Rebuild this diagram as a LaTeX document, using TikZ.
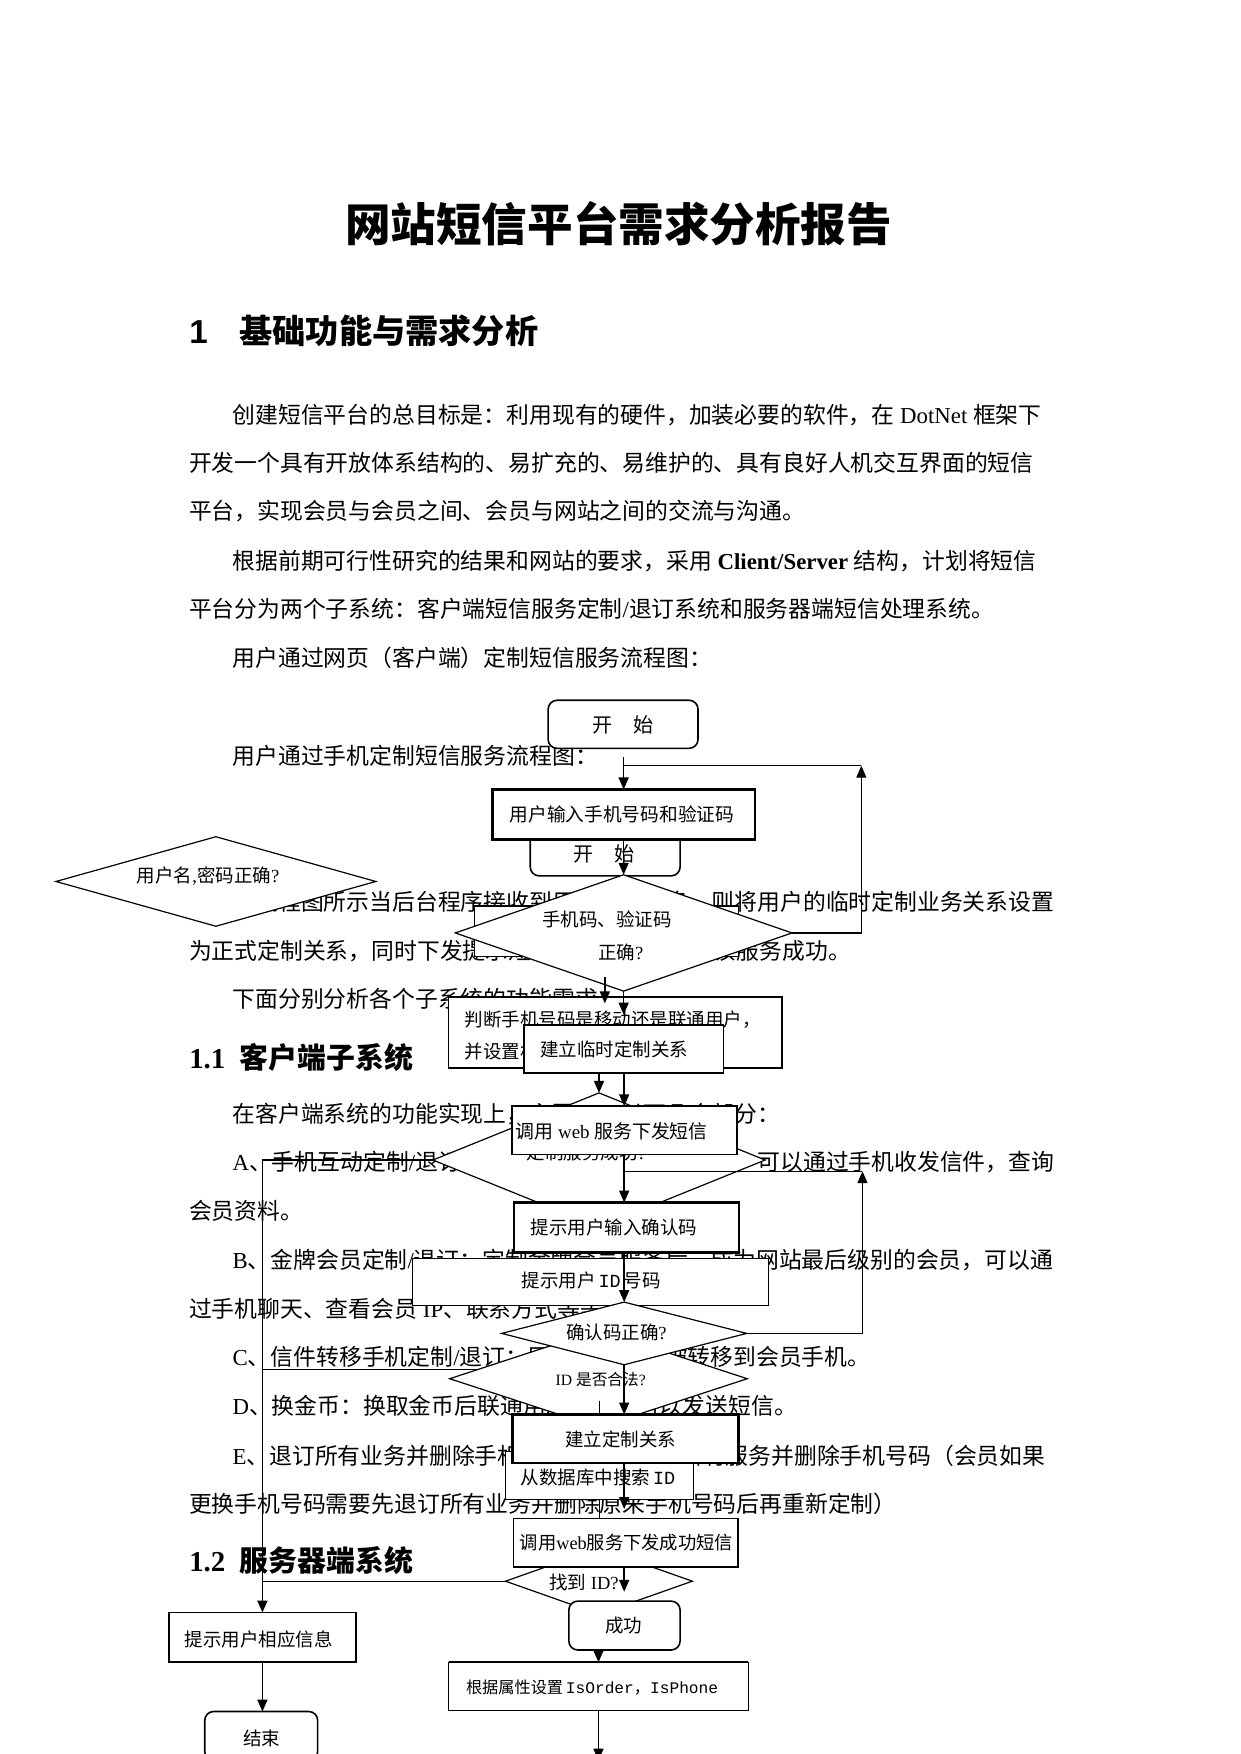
\documentclass[tikz,border=0pt]{standalone}
\usepackage{fontspec}
\setmainfont{Liberation Serif}
\newfontfamily\cjk{Noto Sans CJK SC}
\newfontfamily\monofnt{Liberation Mono}
\newfontfamily\sansfnt{Liberation Sans}
\usetikzlibrary{shapes.geometric,arrows.meta}
\newcommand\fsz[1]{\fontsize{#1pt}{#1pt}\selectfont}
\newcommand\en[1]{{\rmfamily #1}}
\begin{document}
\begin{tikzpicture}[x=1.119pt,y=-1.119pt,
  sz/.style 2 args={minimum width=#1*1.119pt,minimum height=#2*1.119pt},
  body/.style={anchor=base west,inner sep=0pt,outer sep=0pt,font=\cjk\fsz{22.83}},
  lbl/.style={inner sep=0pt,outer sep=0pt,font=\cjk\fsz{18.5}},
  lbll/.style={anchor=west,inner sep=0pt,outer sep=0pt,font=\cjk\fsz{18.5}},
  bx/.style={draw,fill=white,line width=1.2pt,inner sep=0pt,outer sep=0pt},
  bxm/.style={bx,line width=1.8pt},
  bxk/.style={bx,line width=2.6pt},
  rbx/.style={bx,line width=1.6pt,rounded corners=9pt},
  dia/.style={draw,fill=white,shape=diamond,line width=1.2pt,inner sep=0pt,outer sep=0pt},
  ar/.style={-{Triangle[width=10pt,length=12pt]},line width=1.6pt},
  ln/.style={line width=1.2pt}]
\fill[white] (0,0) rectangle (1109,1568);
\useasboundingbox (0,0) rectangle (1109,1568);

% ---------- headings ----------
\node[inner sep=0pt,font=\cjk\bfseries\fsz{45.6}] (title) at (553,200) {网站短信平台需求分析报告};
\node[anchor=base west,inner sep=0pt,font=\sansfnt\bfseries\fsz{33.2}] (h1n) at (169,307.3) {1};
\node[anchor=base west,inner sep=0pt,font=\cjk\bfseries\fsz{33.2}] (h1t) at (214,307.3) {基础功能与需求分析};
\node[anchor=base west,inner sep=0pt,font=\rmfamily\bfseries\fsz{28.9}] (h2n) at (169,954.8) {1.1};
\node[anchor=base west,inner sep=0pt,font=\cjk\bfseries\fsz{28.9}] (h2t) at (214,954.8) {客户端子系统};
\node[anchor=base west,inner sep=0pt,font=\rmfamily\bfseries\fsz{28.9}] (h3n) at (169,1404.8) {1.2};
\node[anchor=base west,inner sep=0pt,font=\cjk\bfseries\fsz{28.9}] (h3t) at (214,1404.8) {服务器端系统};

% ---------- body text ----------
\node[body] (t1) at (208,378.8) {创建短信平台的总目标是：利用现有的硬件，加装必要的软件，在\en{ DotNet }框架下};
\node[body] (t2) at (169,421.8) {开发一个具有开放体系结构的、易扩充的、易维护的、具有良好人机交互界面的短信};
\node[body] (t3) at (169,464.8) {平台，实现会员与会员之间、会员与网站之间的交流与沟通。};
\node[body] (t4) at (208,508.8) {根据前期可行性研究的结果和网站的要求，采用\en{ \textbf{Client/Server} }结构，计划将短信};
\node[body] (t5) at (169,551.8) {平台分为两个子系统：客户端短信服务定制\en{/}退订系统和服务器端短信处理系统。};
\node[body] (t6) at (208,595.8) {用户通过网页（客户端）定制短信服务流程图：};
\node[body] (t7) at (208,683.8) {用户通过手机定制短信服务流程图：};
\node[body] (t8) at (208,813.8) {如流程图所示当后台程序接收到用户回复信息，则将用户的临时定制业务关系设置};
\node[body] (t9) at (169,857.8) {为正式定制关系，同时下发提示短信通知用户已定制该服务成功。};
\node[body] (t10) at (208,900.8) {下面分别分析各个子系统的功能需求。};
\node[body] (t11) at (208,1003.8) {在客户端系统的功能实现上，主要包括以下几个部分：};
\node[body] (t12) at (208,1046.8) {\en{A}、手机互动定制\en{/}退订：注册会员定制此项服务后，可以通过手机收发信件，查询};
\node[body] (t13) at (169,1089.8) {会员资料。};
\node[body] (t14) at (208,1133.8) {\en{B}、金牌会员定制\en{/}退订：定制金牌会员服务后，成为网站最后级别的会员，可以通};
\node[body] (t15) at (169,1177.8) {过手机聊天、查看会员\en{ IP}、联系方式等等。};
\node[body] (t16) at (208,1220.8) {\en{C}、信件转移手机定制\en{/}退订：网站的信件将被转移到会员手机。};
\node[body] (t17) at (208,1264.8) {\en{D}、换金币：换取金币后联通用户也同样可以发送短信。};
\node[body] (t18) at (208,1308.8) {\en{E}、退订所有业务并删除手机号码：退订网站所有服务并删除手机号码（会员如果};
\node[body] (t19) at (169,1351.8) {更换手机号码需要先退订所有业务并删除原来手机号码后再重新定制）};

% ---------- flowchart: top part ----------
\node[dia,sz={286}{80}] (duser) at (193,788) {};
\node[lbl] (dusert) at (186,783) {用户名\en{,}密码正确\en{?}};

\node[rbx,sz={134}{43}] (a1) at (557,647.5) {};
\node[lbl,font=\cjk\fsz{20.1}] (a1t) at (557,648) {开　始};
\node[rbx,sz={134}{43}] (a2) at (541,761.5) {};
\node[lbl,font=\cjk\fsz{20.1}] (a2t) at (540,763) {开　始};
\node[bxk,sz={235}{44.5}] (b1) at (557.5,728) {};
\node[lbl,font=\cjk\fsz{18.7}] (b1t) at (556,728) {用户输入手机号码和验证码};
\coordinate (ca1) at (557.5,677);
\draw[ar] (ca1) -- (b1.north);

\node[bx,sz={236}{45}] (r0) at (542,832.5) {};
\node[dia,sz={301}{104}] (d1) at (557.5,834) {};
\node[lbl] (d1t1) at (542.5,822) {手机码、验证码};
\node[lbl] (d1t2) at (555,851) {正确\en{?}};
\draw[ar] (b1.south) -- (d1.north);
\coordinate (r1b) at (770,834);
\coordinate (r1t) at (770,684.5);
\coordinate (r1m) at (557.5,684.5);
\draw[ar,line width=1.2pt] (d1.east) -- (r1b) -- (r1t);
\draw[ln] (r1t) -- (r1m);

\node[bxm,sz={298}{63.5}] (bj) at (550,922.75) {};
\node[lbll] (bjt1) at (415.6,911.5) {判断手机号码是移动还是联通用户，};
\node[lbll] (bjt2) at (415.6,940) {并设置相应的标志};
\coordinate (cj1) at (540.7,873);
\coordinate (cj2) at (540.7,897);
\draw[ar] (cj1) -- (cj2);
\coordinate (ct1) at (557.5,907);
\draw[ar] (d1.south) -- (ct1);
\node[bxm,sz={178.4}{42.4}] (bt) at (557.5,937.8) {};
\node[lbl] (btt) at (549,938) {建立临时定制关系};

% ---------- middle ----------
\coordinate (mx) at (558,0);
\node[dia,sz={297}{120}] (d2) at (535.5,1037) {};
\node[lbl] (d2t) at (524,1030) {定制服务成功\en{?}};
\node[bxm,sz={201}{43}] (bw) at (558,1010.5) {};
\node[lbll,font=\cjk\fsz{18.9}] (bwt) at (461,1011) {调用\en{ web }服务下发短信};
\draw[ar] (d2.north |- bt.south) -- (d2.north);
\draw[ar] (bt.south -| mx) -- (bw.north -| mx);

\node[bxk,sz={201}{44.5}] (bp) at (560,1097.25) {};
\node[lbl] (bpt) at (549,1097) {提示用户输入确认码};
\draw[ar] (bw.south -| mx) -- (bp.north -| mx);

\node[bx,sz={318}{42}] (bid) at (528,1146) {};
\node[lbl] (bidt) at (528.5,1145) {提示用户\,{\monofnt ID}\,号码};

\node[dia,sz={266}{87}] (div) at (535,1232.5) {};
\node[lbl,font=\cjk\fsz{15.7}] (divt) at (537,1233) {\en{ID }是否合法\en{?}};
\node[dia,sz={219}{56}] (dc) at (558,1192) {};
\node[lbl] (dct) at (551,1191) {确认码正确\en{?}};
\draw[ar] (bp.south -| mx) -- (dc.north);
\coordinate (r2b) at (771,1192);
\coordinate (r2t) at (771,1047);
\coordinate (r2m) at (558,1047);
\draw[ar,line width=1.2pt] (dc.east) -- (r2b) -- (r2t);
\draw[ln] (r2t) -- (r2m);

\node[bx,sz={168}{43}] (bs) at (536,1319) {};
\node[lbl] (bst) at (534.5,1321) {从数据库中搜索\,{\monofnt ID}};
\node[bxk,sz={202.4}{43.5}] (bb) at (559.2,1286.25) {};
\node[lbl] (bbt) at (555,1287) {建立定制关系};
\draw[ar] (dc.south) -- (bb.north -| mx);
\coordinate (civ) at (536,1252);
\draw[ln] (civ) -- (bb.north -| civ);

% ---------- bottom ----------
\node[dia,sz={167}{59}] (df) at (535.4,1413.5) {};
\node[lbl] (dft) at (522,1415) {找到\en{ ID?}};
\node[bxm,sz={201}{43.5}] (bsm) at (559.5,1379.25) {};
\node[lbl,font=\cjk\fsz{18.3}] (bsmt) at (560,1379) {调用\en{web}服务下发成功短信};
\coordinate (cs) at (558,1349);
\draw[ar] (bb.south -| mx) -- (cs);
\draw[ln] (bs.south) -- (bsm.north -| bs.south);
\coordinate (cf) at (558,1423);
\draw[ar] (bsm.south -| mx) -- (cf);

\node[rbx,sz={99.5}{43.7}] (bsu) at (558.25,1453.15) {};
\node[lbl] (bsut) at (557.7,1453) {成功};
\node[bx,sz={268}{42.8}] (ba) at (535,1507.4) {};
\draw[line width=2.4pt] (ba.north west) -- (ba.north east);
\node[lbll,font=\cjk\fsz{16.2}] (bat) at (416.6,1508.5) {根据属性设置\,{\monofnt\fsz{16.2}IsOrder}，{\monofnt\fsz{16.2}IsPhone}};
\draw[ar] (ba.north |- bsu.south) -- (ba.north);
\coordinate (cend) at (535,1574);
\draw[ar,line width=1.2pt] (ba.south) -- (cend);

% ---------- left branch ----------
\coordinate (lx) at (234.6,1037);
\node[bxm,sz={167.4}{44.3}] (bi) at (234.6,1463.65) {};
\node[lbl] (bit) at (231.5,1465.6) {提示用户相应信息};
\draw[ar,line width=1.8pt] (d2.west) -- (lx) -- (bi.north);
\coordinate (cidl) at (428,1224);
\draw[ln] (cidl) -- (cidl -| lx);
\draw[ln] (df.west) -- (df.west -| lx);
\node[rbx,sz={101}{44}] (be) at (233.5,1552) {};
\node[lbl] (bet) at (234,1554) {结束};
\draw[ar,line width=1.8pt] (bi.south) -- (be.north -| bi.south);
\end{tikzpicture}
\end{document}
